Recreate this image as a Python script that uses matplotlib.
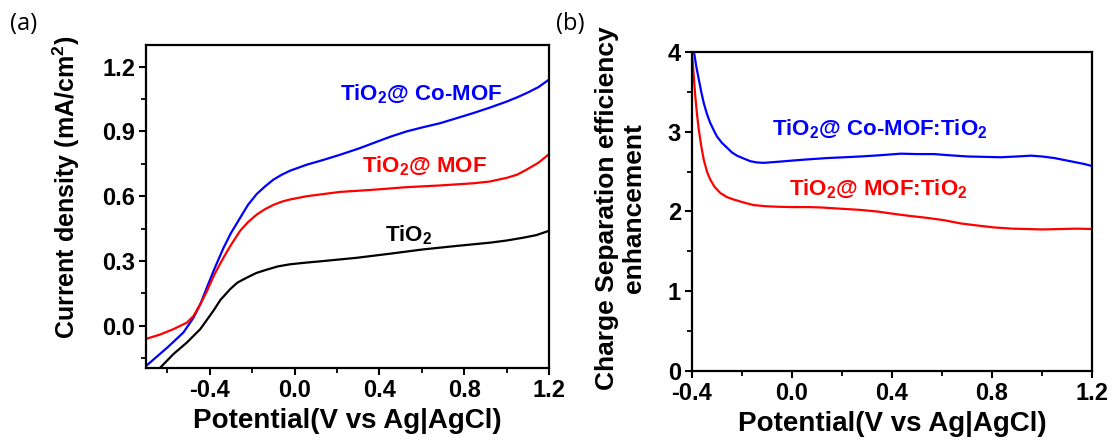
import numpy as np
import matplotlib.pyplot as plt
from matplotlib.ticker import MultipleLocator

plt.rcParams['font.family'] = ['Liberation Sans', 'DejaVu Sans']
plt.rcParams['mathtext.fontset'] = 'custom'
plt.rcParams['mathtext.rm'] = 'Liberation Sans:bold'
plt.rcParams['mathtext.bf'] = 'Liberation Sans:bold'

# (a) LSV curves: potential (V vs Ag|AgCl) -> current density (mA/cm2)
v_co = [-0.70, -0.60, -0.524, -0.477, -0.445, -0.414, -0.38, -0.336, -0.30, -0.257,
        -0.22, -0.179, -0.14, -0.10, -0.06, -0.022, 0.057, 0.135, 0.214, 0.30,
        0.371, 0.45, 0.528, 0.60, 0.686, 0.76, 0.843, 0.92, 1.00, 1.05,
        1.10, 1.15, 1.20]
j_co = [-0.185, -0.10, -0.03, 0.038, 0.10, 0.177, 0.26, 0.36, 0.43, 0.50,
        0.56, 0.61, 0.645, 0.677, 0.70, 0.718, 0.746, 0.768, 0.792, 0.82,
        0.846, 0.875, 0.90, 0.918, 0.938, 0.96, 0.985, 1.01, 1.038, 1.058,
        1.08, 1.105, 1.14]

v_mof = [-0.70, -0.634, -0.571, -0.508, -0.477, -0.445, -0.414, -0.38, -0.336,
         -0.30, -0.257, -0.22, -0.179, -0.14, -0.10, -0.06, -0.022, 0.057,
         0.135, 0.214, 0.371, 0.528, 0.686, 0.843, 0.92, 1.00, 1.05, 1.094,
         1.15, 1.20]
j_mof = [-0.06, -0.04, -0.015, 0.015, 0.046, 0.10, 0.16, 0.235, 0.315,
         0.375, 0.44, 0.48, 0.515, 0.54, 0.56, 0.575, 0.585, 0.60,
         0.61, 0.62, 0.63, 0.642, 0.65, 0.66, 0.668, 0.685, 0.70, 0.723,
         0.755, 0.795]

v_tio2 = [-0.70, -0.571, -0.508, -0.445, -0.383, -0.35, -0.304, -0.27, -0.226,
          -0.18, -0.132, -0.08, -0.022, 0.057, 0.135, 0.292, 0.45, 0.607, 0.764,
          0.921, 1.00, 1.078, 1.14, 1.20]
j_tio2 = [-0.26, -0.13, -0.077, -0.015, 0.07, 0.12, 0.17, 0.20, 0.223,
          0.245, 0.26, 0.275, 0.285, 0.293, 0.30, 0.315, 0.334, 0.354, 0.37,
          0.385, 0.395, 0.408, 0.42, 0.44]

# (b) charge separation efficiency enhancement ratios
v_b_co = [-0.393, -0.383, -0.373, -0.363, -0.353, -0.34, -0.327, -0.31, -0.30,
          -0.28, -0.26, -0.24, -0.22, -0.19, -0.166, -0.14, -0.113, -0.05,
          0.007, 0.07, 0.14, 0.21, 0.274, 0.35, 0.435, 0.50, 0.568, 0.63,
          0.702, 0.77, 0.835, 0.90, 0.956, 1.00, 1.05, 1.09, 1.13, 1.17, 1.20]
r_co = [4.02, 3.82, 3.66, 3.50, 3.36, 3.22, 3.11, 3.00, 2.94,
        2.86, 2.80, 2.74, 2.70, 2.66, 2.63, 2.615, 2.61, 2.625,
        2.64, 2.655, 2.67, 2.68, 2.69, 2.705, 2.725, 2.72, 2.72, 2.705,
        2.69, 2.685, 2.68, 2.69, 2.70, 2.69, 2.67, 2.645, 2.62, 2.595, 2.57]

v_b_mof = [-0.40, -0.393, -0.387, -0.38, -0.373, -0.363, -0.353, -0.34, -0.327,
           -0.31, -0.286, -0.26, -0.233, -0.19, -0.153, -0.10, -0.06, 0.00,
           0.074, 0.12, 0.168, 0.22, 0.274, 0.34, 0.408, 0.47, 0.541, 0.61,
           0.675, 0.74, 0.809, 0.88, 0.942, 1.00, 1.076, 1.14, 1.20]
r_mof = [3.99, 3.70, 3.45, 3.22, 3.03, 2.82, 2.65, 2.50, 2.40,
         2.31, 2.23, 2.18, 2.15, 2.11, 2.08, 2.065, 2.06, 2.055,
         2.055, 2.05, 2.04, 2.03, 2.02, 2.00, 1.97, 1.945, 1.92, 1.89,
         1.85, 1.825, 1.80, 1.785, 1.78, 1.775, 1.78, 1.785, 1.78]

fig = plt.figure(figsize=(11.12, 4.44), dpi=100)
ax1 = fig.add_axes([0.1315, 0.1712, 0.3622, 0.7274])
ax2 = fig.add_axes([0.6223, 0.1644, 0.3597, 0.7185])

lw = 1.6
ax1.plot(v_co, j_co, color='#0000ff', lw=lw)
ax1.plot(v_mof, j_mof, color='#ff0000', lw=lw)
ax1.plot(v_tio2, j_tio2, color='black', lw=lw)
ax1.set_xlim(-0.70, 1.2)
ax1.set_ylim(-0.195, 1.30)
ax1.xaxis.set_minor_locator(MultipleLocator(0.2))
ax1.yaxis.set_minor_locator(MultipleLocator(0.15))
ax1.set_xticks([-0.4, 0.0, 0.4, 0.8, 1.2])
ax1.set_xticklabels(['-0.4', '0.0', '0.4', '0.8', '1.2'])
ax1.set_yticks([0.0, 0.3, 0.6, 0.9, 1.2])
ax1.set_yticklabels(['0.0', '0.3', '0.6', '0.9', '1.2'])

ax1.text(0.214, 1.07, r'TiO$_2$@ Co-MOF', color='#0000ff', fontsize=16,
         fontweight='bold', va='center')
ax1.text(0.316, 0.74, r'TiO$_2$@ MOF', color='#ff0000', fontsize=16,
         fontweight='bold', va='center')
ax1.text(0.426, 0.42, r'TiO$_2$', color='black', fontsize=16,
         fontweight='bold', va='center')

ax1.set_xlabel('Potential(V vs Ag|AgCl)', fontsize=20, fontweight='bold', labelpad=4)
ax1.set_ylabel(r'Current density (mA/cm$^2$)', fontsize=18, fontweight='bold')
ax1.yaxis.set_label_coords(-0.16, 0.56)

ax2.plot(v_b_co, r_co, color='#0000ff', lw=lw)
ax2.plot(v_b_mof, r_mof, color='#ff0000', lw=lw)
ax2.set_xlim(-0.4, 1.2)
ax2.set_ylim(0, 4)
ax2.set_xticks([-0.4, 0.0, 0.4, 0.8, 1.2])
ax2.set_xticklabels(['-0.4', '0.0', '0.4', '0.8', '1.2'])
ax2.xaxis.set_minor_locator(MultipleLocator(0.2))
ax2.set_yticks([0, 1, 2, 3, 4])
ax2.yaxis.set_minor_locator(MultipleLocator(0.5))

ax2.text(-0.08, 3.03, r'TiO$_2$@ Co-MOF:TiO$_2$', color='#0000ff', fontsize=16,
         fontweight='bold', va='center')
ax2.text(-0.013, 2.28, r'TiO$_2$@ MOF:TiO$_2$', color='#ff0000', fontsize=16,
         fontweight='bold', va='center')

ax2.set_xlabel('Potential(V vs Ag|AgCl)', fontsize=20, fontweight='bold', labelpad=4)
ax2.set_ylabel('Charge Separation efficiency\nenhancement', fontsize=19,
               fontweight='bold', linespacing=1.15)
ax2.yaxis.set_label_coords(-0.115, 0.51)

for ax in (ax1, ax2):
    for s in ax.spines.values():
        s.set_linewidth(1.6)
    ax.tick_params(which='major', direction='out', length=5, width=1.5,
                   labelsize=17, pad=3)
    ax.tick_params(which='minor', direction='out', length=3.5, width=1.3)
    for lab in ax.get_xticklabels() + ax.get_yticklabels():
        lab.set_fontweight('bold')

fig.text(0.009, 0.945, '(a)', fontsize=17, family=['Open Sans', 'DejaVu Sans'],
         va='center')
fig.text(0.500, 0.945, '(b)', fontsize=17, family=['Open Sans', 'DejaVu Sans'],
         va='center')

fig.savefig('out.png', dpi=100)
